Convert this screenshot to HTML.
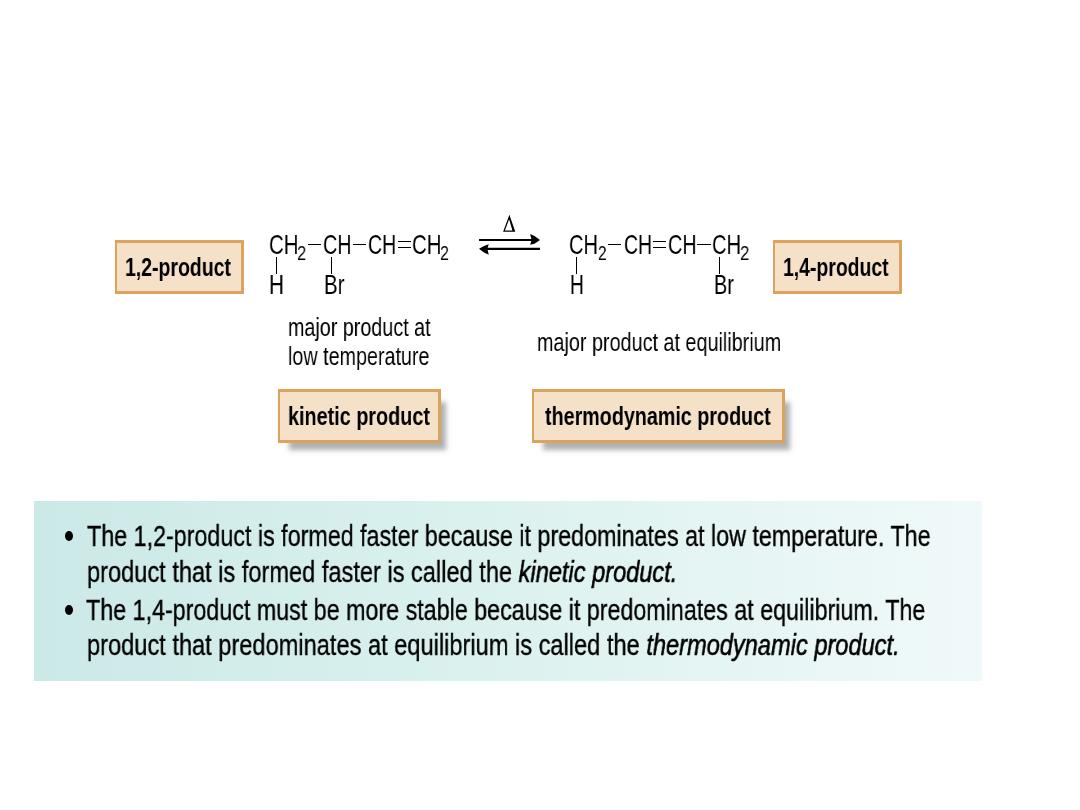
<!DOCTYPE html>
<html><head><meta charset="utf-8">
<style>
html,body{margin:0;padding:0;background:#fff;width:1080px;height:810px;overflow:hidden;position:relative;font-family:"Liberation Sans",sans-serif;color:#000}
.t{position:absolute;white-space:nowrap;transform-origin:0 0;color:#000;will-change:transform}
.box{position:absolute;box-sizing:border-box;border:solid #dca35c;border-width:3px 3px 3px 2px;background:#f4e1c8}
.sh{box-shadow:8px 10px 5px -3px rgba(100,105,108,0.52)}
.hb{position:absolute;height:1.2px;background:#000}
.vb{position:absolute;width:1.2px;background:#000}
.teal{position:absolute;left:34px;top:501px;width:948px;height:180px;background:linear-gradient(to right,#cbe9e7 0%,#daf1ee 45%,#f0f9f9 100%)}
.bul{position:absolute;width:8px;height:10px;border-radius:50%;background:#000}
</style></head><body>
<div class="box" style="left:115px;top:240px;width:129px;height:54px"></div>
<div class="box" style="left:773px;top:240px;width:129px;height:54px"></div>
<div class="box sh" style="left:278px;top:389px;width:163px;height:54px"></div>
<div class="box sh" style="left:532px;top:389px;width:253px;height:54px"></div>
<!-- bonds left -->
<div class="hb" style="left:308px;top:243.8px;width:13px"></div>
<div class="hb" style="left:353px;top:243.5px;width:13px"></div>
<div class="hb" style="left:397.7px;top:240.7px;width:13.2px"></div>
<div class="hb" style="left:397.7px;top:246.6px;width:13.2px"></div>
<div class="vb" style="left:275.9px;top:257px;height:16.6px"></div>
<div class="vb" style="left:330.7px;top:257px;height:16.6px"></div>
<!-- bonds right -->
<div class="hb" style="left:608.1px;top:243.8px;width:13px"></div>
<div class="hb" style="left:653.1px;top:240.8px;width:12.7px"></div>
<div class="hb" style="left:653.1px;top:247px;width:12.7px"></div>
<div class="hb" style="left:697.2px;top:243.8px;width:13.9px"></div>
<div class="vb" style="left:575.9px;top:257px;height:16.6px"></div>
<div class="vb" style="left:718.8px;top:257px;height:16.6px"></div>
<!-- arrows -->
<svg style="position:absolute;left:470px;top:205px" width="80" height="60" viewBox="0 0 80 60">
<path d="M9 34.9 H66" stroke="#000" stroke-width="2.05" fill="none"/>
<path d="M70 34.9 L64.5 31.0 L60.2 29.0 L61.5 34.9 L60.2 39.8 L64.5 38.7 Z" fill="#000"/>
<path d="M14 43.85 H70" stroke="#000" stroke-width="2.05" fill="none"/>
<path d="M9 43.85 L14 40.9 L18.8 39.2 L17.3 43.85 L18.8 49.7 L14 47.4 Z" fill="#000"/>
<path d="M33.1 26.7 L39.4 9.8 L45.3 26.7 Z M34.9 25.6 L39.1 14.3 L42.4 25.6 Z" fill="#000" fill-rule="evenodd"/>
</svg>
<div class="teal"></div>
<div class="bul" style="left:65.2px;top:531.3px"></div>
<div class="bul" style="left:65.1px;top:605.3px"></div>
<div class="t" style="left:125.14px;top:254.96px;font-size:25.6px;line-height:25.6px;font-weight:700;transform:scaleX(0.7606)">1,2-product</div>
<div class="t" style="left:782.99px;top:254.96px;font-size:25.6px;line-height:25.6px;font-weight:700;transform:scaleX(0.7581)">1,4-product</div>
<div class="t" style="left:287.73px;top:403.96px;font-size:25.6px;line-height:25.6px;font-weight:700;transform:scaleX(0.7736)">kinetic product</div>
<div class="t" style="left:545.00px;top:403.96px;font-size:25.6px;line-height:25.6px;font-weight:700;transform:scaleX(0.7702)">thermodynamic product</div>
<div class="t" style="left:287.81px;top:314.50px;font-size:25px;line-height:25px;transform:scaleX(0.7891)">major product at</div>
<div class="t" style="left:288.11px;top:343.50px;font-size:25px;line-height:25px;transform:scaleX(0.7894)">low temperature</div>
<div class="t" style="left:536.91px;top:329.50px;font-size:25px;line-height:25px;transform:scaleX(0.7915)">major product at equilibrium</div>
<div class="t" style="left:268.96px;top:231.16px;font-size:27.6px;line-height:27.6px;transform:scaleX(0.7393)">CH</div>
<div class="t" style="left:297.17px;top:244.09px;font-size:19.9px;line-height:19.9px;transform:scaleX(0.8300)">2</div>
<div class="t" style="left:323.19px;top:231.16px;font-size:27.6px;line-height:27.6px;transform:scaleX(0.7149)">CH</div>
<div class="t" style="left:368.10px;top:231.16px;font-size:27.6px;line-height:27.6px;transform:scaleX(0.7041)">CH</div>
<div class="t" style="left:411.56px;top:231.16px;font-size:27.6px;line-height:27.6px;transform:scaleX(0.7393)">CH</div>
<div class="t" style="left:439.69px;top:244.09px;font-size:19.9px;line-height:19.9px;transform:scaleX(0.8100)">2</div>
<div class="t" style="left:268.70px;top:271.16px;font-size:27.6px;line-height:27.6px;transform:scaleX(0.7500)">H</div>
<div class="t" style="left:324.42px;top:271.16px;font-size:27.6px;line-height:27.6px;transform:scaleX(0.7400)">Br</div>
<div class="t" style="left:569.47px;top:231.16px;font-size:27.6px;line-height:27.6px;transform:scaleX(0.7257)">CH</div>
<div class="t" style="left:597.72px;top:244.09px;font-size:19.9px;line-height:19.9px;transform:scaleX(0.7800)">2</div>
<div class="t" style="left:623.70px;top:231.16px;font-size:27.6px;line-height:27.6px;transform:scaleX(0.7014)">CH</div>
<div class="t" style="left:668.38px;top:231.16px;font-size:27.6px;line-height:27.6px;transform:scaleX(0.7176)">CH</div>
<div class="t" style="left:712.37px;top:231.16px;font-size:27.6px;line-height:27.6px;transform:scaleX(0.7285)">CH</div>
<div class="t" style="left:740.16px;top:244.09px;font-size:19.9px;line-height:19.9px;transform:scaleX(0.8400)">2</div>
<div class="t" style="left:569.71px;top:271.16px;font-size:27.6px;line-height:27.6px;transform:scaleX(0.6938)">H</div>
<div class="t" style="left:713.56px;top:271.16px;font-size:27.6px;line-height:27.6px;transform:scaleX(0.7203)">Br</div>
<div class="t" style="-webkit-text-stroke:0.35px #000;left:86.50px;top:521.99px;font-size:28.9px;line-height:28.9px;transform:scaleX(0.8061)">The 1,2-product is formed faster because it predominates at low temperature. The</div>
<div class="t" style="-webkit-text-stroke:0.35px #000;left:86.88px;top:557.99px;font-size:28.9px;line-height:28.9px;transform:scaleX(0.8170)">product that is formed faster is called the <i style="-webkit-text-stroke:0.6px #000">kinetic product.</i></div>
<div class="t" style="-webkit-text-stroke:0.35px #000;left:86.30px;top:595.99px;font-size:28.9px;line-height:28.9px;transform:scaleX(0.8058)">The 1,4-product must be more stable because it predominates at equilibrium. The</div>
<div class="t" style="-webkit-text-stroke:0.35px #000;left:86.88px;top:630.99px;font-size:28.9px;line-height:28.9px;transform:scaleX(0.8175)">product that predominates at equilibrium is called the <i style="-webkit-text-stroke:0.6px #000">thermodynamic product.</i></div>
</body></html>
